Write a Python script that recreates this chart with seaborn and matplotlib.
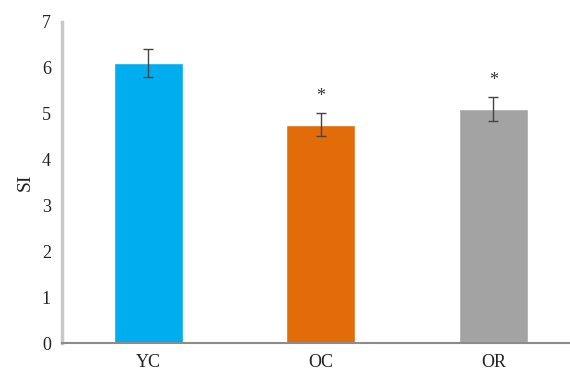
import matplotlib
matplotlib.use("Agg")
import matplotlib.pyplot as plt
import seaborn as sns
import pandas as pd

groups = ["YC", "OC", "OR"]
si_mean = [6.10, 4.76, 5.10]
si_err = [0.31, 0.25, 0.26]
significant = [False, True, True]
bar_colors = ["#00AEEF", "#E36C0A", "#A3A3A3"]
y_ticks = [0, 1, 2, 3, 4, 5, 6, 7]

sns.set_theme(style="white")
plt.rcParams["font.family"] = ["Liberation Serif", "DejaVu Serif"]

df = pd.DataFrame({"group": groups, "SI": si_mean})

fig = plt.figure(figsize=(5.7, 3.7), dpi=100)
ax = fig.add_axes([62 / 570, 27 / 370, 508 / 570, 321 / 370])

sns.barplot(data=df, x="group", y="SI", hue="group", palette=bar_colors,
            width=0.4, errorbar=None, legend=False, ax=ax, saturation=1)

ax.errorbar(range(len(groups)), si_mean, yerr=si_err, fmt="none",
            ecolor="#444444", elinewidth=1.0, capsize=3.5, capthick=1.0)

for i, (m, e, s) in enumerate(zip(si_mean, si_err, significant)):
    if s:
        ax.text(i, m + e + 0.17, "*", ha="center", va="bottom",
                fontsize=13, color="#333333")

ax.set_yticks(y_ticks)
ax.set_yticklabels([str(t) for t in y_ticks], fontsize=13, color="#222222")
ax.set_xticks(range(len(groups)))
ax.set_xticklabels(groups, fontsize=13, color="#222222")
# category separators below the baseline
ax.set_xticks([0.5, 1.5], minor=True)
ax.set_xlim(-0.5, -0.5 + 508 / 172.5)
ax.set_ylim(0, 7)
ax.tick_params(axis="x", which="major", length=0, pad=8)
ax.tick_params(axis="x", which="minor", length=4, width=1.0,
               color="#999999", direction="out")
ax.tick_params(axis="y", length=4, width=1.0, color="#aaaaaa",
               direction="out", pad=4)

ax.set_xlabel("")
ax.set_ylabel("SI", fontsize=14, color="#222222", labelpad=6)

for side in ["top", "right"]:
    ax.spines[side].set_visible(False)
ax.spines["left"].set_color("#c8c8c8")
ax.spines["left"].set_linewidth(2.5)
ax.spines["bottom"].set_color("#8c8c8c")
ax.spines["bottom"].set_linewidth(1.5)

fig.savefig("out.png", dpi=100)
